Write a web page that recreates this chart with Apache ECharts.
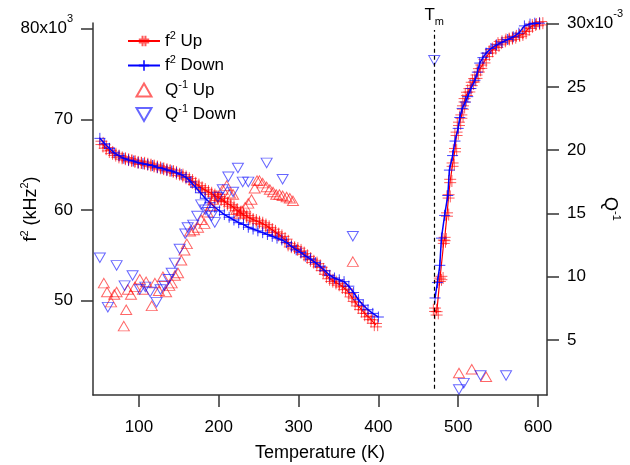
<!DOCTYPE html>
<html><head><meta charset="utf-8">
<script src="https://cdn.jsdelivr.net/npm/echarts@6/dist/echarts.min.js"></script>
<style>html,body{margin:0;padding:0;background:#fff}#c{width:630px;height:465px}</style>
</head><body><div id="c"></div>
<script>
// f^2 in units of 10^3 kHz^2, Q^-1 in units of 10^-3, T in K
const f2UpLow = [[53,67.4],[57,67.0],[61,66.7],[65,66.4],[69,66.2],[73,66.0],[77,65.8],[81,65.7],[85,65.6],[89,65.5],[93,65.4],[97,65.3],[101,65.2],[105,65.2],[109,65.1],[113,65.0],[117,64.9],[121,64.8],[125,64.7],[129,64.6],[133,64.5],[137,64.4],[141,64.3],[145,64.2],[149,64.0],[153,63.9],[157,63.7],[161,63.5],[165,63.3],[169,63.0],[173,62.8],[177,62.5],[181,62.3],[185,62.1],[189,61.9],[193,61.7],[197,61.5],[201,61.3],[205,61.1],[209,60.8],[213,60.6],[217,60.4],[221,60.1],[225,59.8],[229,59.6],[233,59.4],[237,59.2],[241,59.0],[245,58.9],[249,58.7],[253,58.6],[257,58.4],[261,58.2],[265,57.9],[269,57.7],[273,57.4],[277,57.2],[281,56.9],[285,56.6],[289,56.1],[293,55.9],[297,55.8],[301,55.6],[305,55.3],[309,55.0],[313,54.7],[317,54.4],[321,54.2],[325,53.9],[329,53.5],[333,53.1],[337,52.6],[341,52.3],[345,52.1],[349,51.9],[353,51.7],[357,51.4],[361,51.1],[365,50.6],[369,50.1],[373,49.6],[377,49.2],[381,48.8],[385,48.4],[389,48.1],[393,47.7],[397,47.3]];
const f2UpHigh = [[471,49.0],[473,48.6],[477,52.3],[479,52.5],[482,56.5],[483,56.8],[486,59.5],[488,61.5],[490,63.2],[493,65.0],[496,66.6],[498,68.4],[501,69.5],[504,70.3],[506,71.3],[508,72.1],[511,72.8],[514,73.2],[517,73.9],[520,74.3],[523,74.7],[526,75.4],[529,75.8],[533,76.4],[537,77.1],[541,77.5],[545,77.8],[549,78.1],[552,78.4],[557,78.6],[562,78.8],[566,78.9],[570,79.0],[575,79.2],[579,79.3],[583,79.5],[587,79.9],[591,80.2],[595,80.4],[600,80.5],[604,80.6]];
const f2DownLow = [[51,67.9],[57,67.3],[63,66.8],[69,66.3],[75,66.0],[81,65.7],[87,65.5],[93,65.4],[99,65.2],[105,65.1],[111,65.0],[117,64.9],[123,64.7],[129,64.6],[135,64.4],[141,64.3],[147,64.1],[153,63.9],[159,63.6],[165,63.1],[171,62.5],[177,61.9],[183,61.3],[189,60.8],[195,60.3],[201,59.9],[207,59.5],[213,59.2],[219,58.9],[225,58.6],[231,58.4],[237,58.1],[243,57.9],[249,57.7],[255,57.5],[261,57.3],[267,57.1],[273,56.9],[279,56.7],[285,56.4],[291,56.0],[297,55.6],[303,55.3],[309,54.9],[315,54.6],[321,54.2],[327,53.8],[333,53.3],[339,52.8],[345,52.5],[351,52.3],[357,52.1],[363,51.6],[369,50.9],[375,50.1],[381,49.5],[387,49.0],[393,48.6],[400,48.2]];
const f2DownHigh = [[471,50.3],[474,52.0],[477,53.9],[479,56.9],[483,59.4],[487,61.6],[489,64.4],[493,66.0],[496,67.6],[500,69.0],[502,70.2],[505,71.2],[509,71.9],[512,72.5],[516,73.4],[521,74.3],[524,75.2],[527,76.2],[531,76.8],[535,77.3],[541,77.8],[548,78.2],[555,78.5],[562,78.8],[569,79.1],[576,79.5],[583,80.3],[590,80.5],[596,80.6],[602,80.6]];
const qUp = [[56,9.5],[60,8.8],[65,8.0],[69,8.6],[72,8.8],[81,6.1],[84,7.4],[86,9.0],[90,8.6],[95,9.2],[101,9.8],[105,9.0],[109,9.6],[116,7.7],[120,9.5],[125,8.9],[130,10.0],[134,8.8],[138,9.3],[141,9.5],[145,10.1],[149,10.3],[153,11.3],[157,12.1],[160,12.6],[164,13.6],[169,13.7],[174,13.9],[178,14.5],[182,14.2],[186,15.1],[190,15.6],[193,16.1],[197,16.4],[201,16.3],[205,16.9],[210,17.2],[214,16.6],[218,16.5],[222,15.3],[226,15.0],[229,15.2],[233,15.5],[237,15.8],[241,16.1],[245,17.0],[248,17.6],[251,17.6],[255,17.4],[260,17.1],[264,16.9],[268,16.7],[272,16.5],[276,16.5],[280,16.4],[285,16.3],[289,16.2],[293,16.0],[368,11.2],[501,2.4],[517,2.7],[535,2.1]];
const qDown = [[51,11.5],[61,7.6],[72,10.9],[82,9.3],[92,10.1],[101,9.0],[108,9.2],[114,8.8],[122,8.0],[127,9.0],[132,9.3],[137,9.8],[141,10.3],[145,11.1],[151,12.2],[158,13.4],[161,13.9],[168,14.1],[173,14.8],[178,15.7],[183,15.3],[187,15.1],[191,14.8],[195,14.3],[199,16.3],[205,16.9],[212,17.9],[218,16.7],[224,18.6],[230,17.5],[237,17.5],[260,19.0],[280,17.7],[368,13.2],[470,27.1],[501,1.1],[507,1.6],[528,2.2],[560,2.2]];
const TM = 470;
const xTicks = [100,200,300,400,500,600];
const leftTicks = [50,60,70,80];
const rightTicks = [5,10,15,20,25,30];
const seriesNames = ['f2 Up','f2 Down','Q-1 Up','Q-1 Down'];
const legendLabels = {
  'f2 Up': '{n|f}{s|2}{n| Up}',
  'f2 Down': '{n|f}{s|2}{n| Down}',
  'Q-1 Up': '{n|Q}{s|-1}{n| Up}',
  'Q-1 Down': '{n|Q}{s|-1}{n| Down}'
};

const FONT = '"Liberation Sans", Arial, Helvetica, sans-serif';
const RED = '#ff0000', BLUE = '#0000ff';
const redA = 'rgba(255,0,0,0.65)', blueA = 'rgba(0,0,255,0.75)';
const PLUS = 'path://M5,0L5,10M0,5L10,5';
const HASH = 'path://M3.6,0L3.6,10M6.4,0L6.4,10M0,3.6L10,3.6M0,6.4L10,6.4';
const TRI_UP = 'path://M5,0L10,8.66L0,8.66Z';
const TRI_DN = 'path://M0,0L10,0L5,8.66Z';
const AX = '#333';

function supRich(main, lh){
  return {
    n: {fontSize: main, fontFamily: FONT, color: '#000', lineHeight: lh},
    s: {fontSize: 11, fontFamily: FONT, color: '#000', verticalAlign: 'top', lineHeight: 13}
  };
}

const chart = echarts.init(document.getElementById('c'), null, {renderer: 'canvas'});

function lineSeries(name, data, color, mcolor, sym, size, lw, extra){
  return Object.assign({
    name, type: 'line', data, yAxisIndex: 0,
    symbol: sym, symbolSize: size, showAllSymbol: true,
    lineStyle: {color: color, width: lw},
    itemStyle: {color: 'transparent', borderColor: mcolor, borderWidth: 1},
    emphasis: {disabled: true}, z: 2
  }, extra || {});
}

const option = {
  animation: false,
  grid: {left: 93, right: 83, top: 23, bottom: 70, containLabel: false, outerBoundsMode: 'none'},
  legend: {
    data: seriesNames,
    orient: 'vertical', left: 122, top: 25,
    itemWidth: 32, itemHeight: 13, itemGap: 5,
    formatter: n => legendLabels[n],
    textStyle: {fontSize: 17, fontFamily: FONT, color: '#000', rich: supRich(17, 22)}
  },
  xAxis: {
    type: 'value', min: 42.4, max: 611.3,
    name: 'Temperature (K)', nameLocation: 'middle', nameGap: 49, nameMoveOverlap: false,
    nameTextStyle: {fontSize: 18, fontFamily: FONT, color: '#000'},
    axisLine: {show: true, lineStyle: {color: AX, width: 1.5}},
    axisTick: {show: true, length: 12, customValues: xTicks, lineStyle: {color: AX, width: 1.5}},
    axisLabel: {customValues: xTicks, margin: 24, fontSize: 17, fontFamily: FONT, color: '#000'},
    splitLine: {show: false}
  },
  yAxis: [{
    type: 'value', min: 39.6, max: 80.62, position: 'left',
    name: '{n|f}{s|2}{n| (kHz}{s|2}{n|)}', nameLocation: 'middle', nameGap: 50, nameRotate: 90,
    nameMoveOverlap: false,
    nameTextStyle: {rich: supRich(18, 24)},
    axisLine: {show: true, lineStyle: {color: AX, width: 1.5}},
    axisTick: {show: true, length: 12, customValues: leftTicks, lineStyle: {color: AX, width: 1.5}},
    axisLabel: {customValues: leftTicks, margin: 20,
      formatter: v => v === 80 ? '{n|80x10}{s|3}' : '{n|' + v + '}',
      rich: supRich(17, 30)},
    splitLine: {show: false}
  }, {
    type: 'value', min: 0.66, max: 30.05, position: 'right',
    name: '{n|Q}{s|-1}', nameLocation: 'middle', nameGap: 51, nameRotate: -90,
    nameMoveOverlap: false,
    nameTextStyle: {rich: supRich(18, 24)},
    axisLine: {show: true, lineStyle: {color: AX, width: 1.5}},
    axisTick: {show: true, length: 12, customValues: rightTicks, lineStyle: {color: AX, width: 1.5}},
    axisLabel: {customValues: rightTicks, margin: 20,
      formatter: v => v === 30 ? '{n|30x10}{s|-3}' : '{n|' + v + '}',
      rich: supRich(17, 30)},
    splitLine: {show: false}
  }],
  series: [
    lineSeries('f2 Up', f2UpLow, RED, redA, HASH, 12, 1.2, {
      markLine: {
        silent: true, symbol: ['none','none'],
        lineStyle: {color: '#000', type: [4,3], width: 1.2},
        label: {show: true, position: 'end', distance: 3, formatter: '{t|T}{m|m}',
          rich: {t: {fontSize: 17, fontFamily: FONT, color: '#000', lineHeight: 24},
                 m: {fontSize: 11, fontFamily: FONT, color: '#000', verticalAlign: 'bottom', lineHeight: 13}}},
        data: [[{coord: [TM, 40.3]}, {coord: [TM, 79.85]}]]
      }
    }),
    lineSeries('f2 Up', f2UpHigh, RED, redA, HASH, 12, 1.2),
    lineSeries('f2 Down', f2DownLow, BLUE, blueA, PLUS, 11, 1.5, {z: 3}),
    lineSeries('f2 Down', f2DownHigh, BLUE, blueA, PLUS, 11, 1.5, {z: 3}),
    {name: 'Q-1 Up', type: 'scatter', yAxisIndex: 1, data: qUp, symbol: TRI_UP, symbolSize: [11,9.5],
      itemStyle: {color: 'transparent', borderColor: 'rgba(255,0,0,0.75)', borderWidth: 1}, emphasis: {disabled: true}, z: 4},
    {name: 'Q-1 Down', type: 'scatter', yAxisIndex: 1, data: qDown, symbol: TRI_DN, symbolSize: [11,9.5],
      itemStyle: {color: 'transparent', borderColor: 'rgba(0,0,255,0.75)', borderWidth: 1}, emphasis: {disabled: true}, z: 4}
  ]
};
chart.setOption(option);
</script></body></html>
